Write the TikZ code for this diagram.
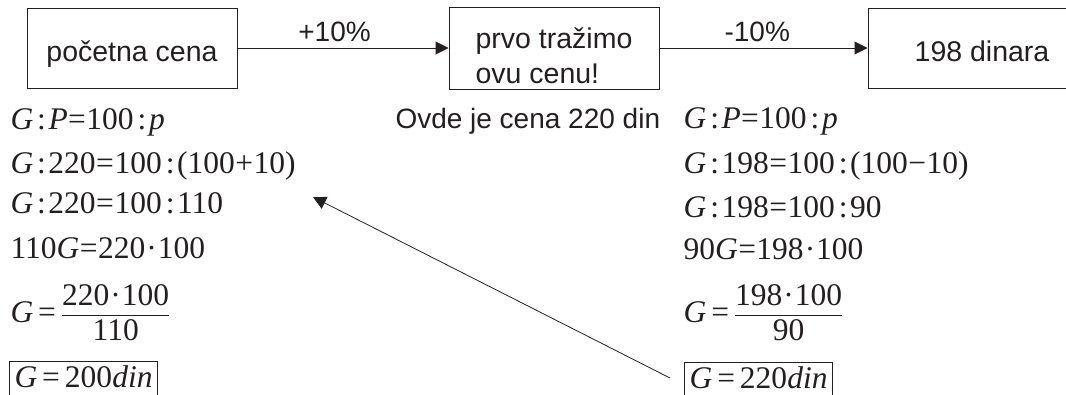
\documentclass[tikz,border=0pt]{standalone}
\usepackage{amsmath}
\usepackage{fontspec}
\setmainfont{Liberation Serif}
\newfontfamily\arialfont{Liberation Sans}
\usetikzlibrary{arrows.meta}
\usetikzlibrary{calc}

\definecolor{ink}{RGB}{35,31,32}
\newcommand{\rt}{\kern4pt:\kern2.5pt}
\newcommand{\eqs}{\kern0.5pt=\kern0.5pt}
\newcommand{\eqw}{\kern5pt=\kern5pt}

\tikzset{
  cell/.style={draw=ink, text=ink, line width=1pt, minimum width=210pt, minimum height=80pt, inner sep=0pt,
    text height=32pt, text depth=6pt, font=\arialfont\fontsize{28.5}{30}\selectfont},
  sans/.style={text=ink, inner sep=0pt, font=\arialfont\fontsize{28}{30}\selectfont},
  eq/.style={text=ink, anchor=base west, inner sep=0pt, font=\fontsize{31.5}{36}\selectfont},
  answer/.style={eq, draw=ink, line width=1pt, inner xsep=5pt, text height=26pt, text depth=15pt}
}

\begin{document}
\begin{tikzpicture}[x=1pt, y=-1pt, line width=1pt, >={Triangle[length=13pt,width=13pt]}]
\useasboundingbox (0,0) rectangle (1066,394);
\node[cell] (start) at (132,48) {početna cena};
\node[cell, align=left, text height=76pt, text depth=6pt] (mid) at (554,48) {prvo tražimo\\[5pt]ovu cenu!};
\node[cell, minimum width=228pt] (target) at (982,48) {198 dinara};
\draw[->, ink] (start) -- node[sans, pos=0.46, above=6pt] {+10\%} (mid);
\draw[->, ink] (mid) -- node[sans, pos=0.47, above=6pt] {-10\%} (target);
\node[sans, anchor=base west] (note) at (395,128) {Ovde je cena 220 din};

% levo: pocetna cena
\node[eq] (l1) at (10,129) {\textit{G}\rt\textit{P}\eqs100\rt\textit{p}};
\node[eq] (l2) at (10,173) {\textit{G}\rt220\eqs100\rt(100\kern0.5pt+\kern0.5pt10)};
\node[eq] (l3) at (10,213) {\textit{G}\rt220\eqs100\rt110};
\node[eq] (l4) at (10,258) {110\textit{G}\eqs220\kern1pt·\kern1pt100};
\node[eq] (l5) at (10,322) {\textit{G}\eqw$\dfrac{\text{220\kern1pt·\kern1pt100}}{\text{110}}$};
\node[answer] (ansL) at (9,387) {\textit{G}\eqw200\textit{din}};

% desno: cena pre popusta
\node[eq] (r1) at (683,128) {\textit{G}\rt\textit{P}\eqs100\rt\textit{p}};
\node[eq] (r2) at (683,173) {\textit{G}\rt198\eqs100\rt(100\kern0.5pt−\kern0.5pt10)};
\node[eq] (r3) at (683,217) {\textit{G}\rt198\eqs100\rt90};
\node[eq] (r4) at (683,259) {90\textit{G}\eqs198\kern1pt·\kern1pt100};
\node[eq] (r5) at (683,322) {\textit{G}\eqw$\dfrac{\text{198\kern1pt·\kern1pt100}}{\text{90}}$};
\node[answer] (ansR) at (684,388) {\textit{G}\eqw220\textit{din}};

\coordinate (from) at (670,378);
\coordinate (to) at (313,197);
\draw[->, ink, line width=0.8pt] (from) -- (to);
\end{tikzpicture}
\end{document}
